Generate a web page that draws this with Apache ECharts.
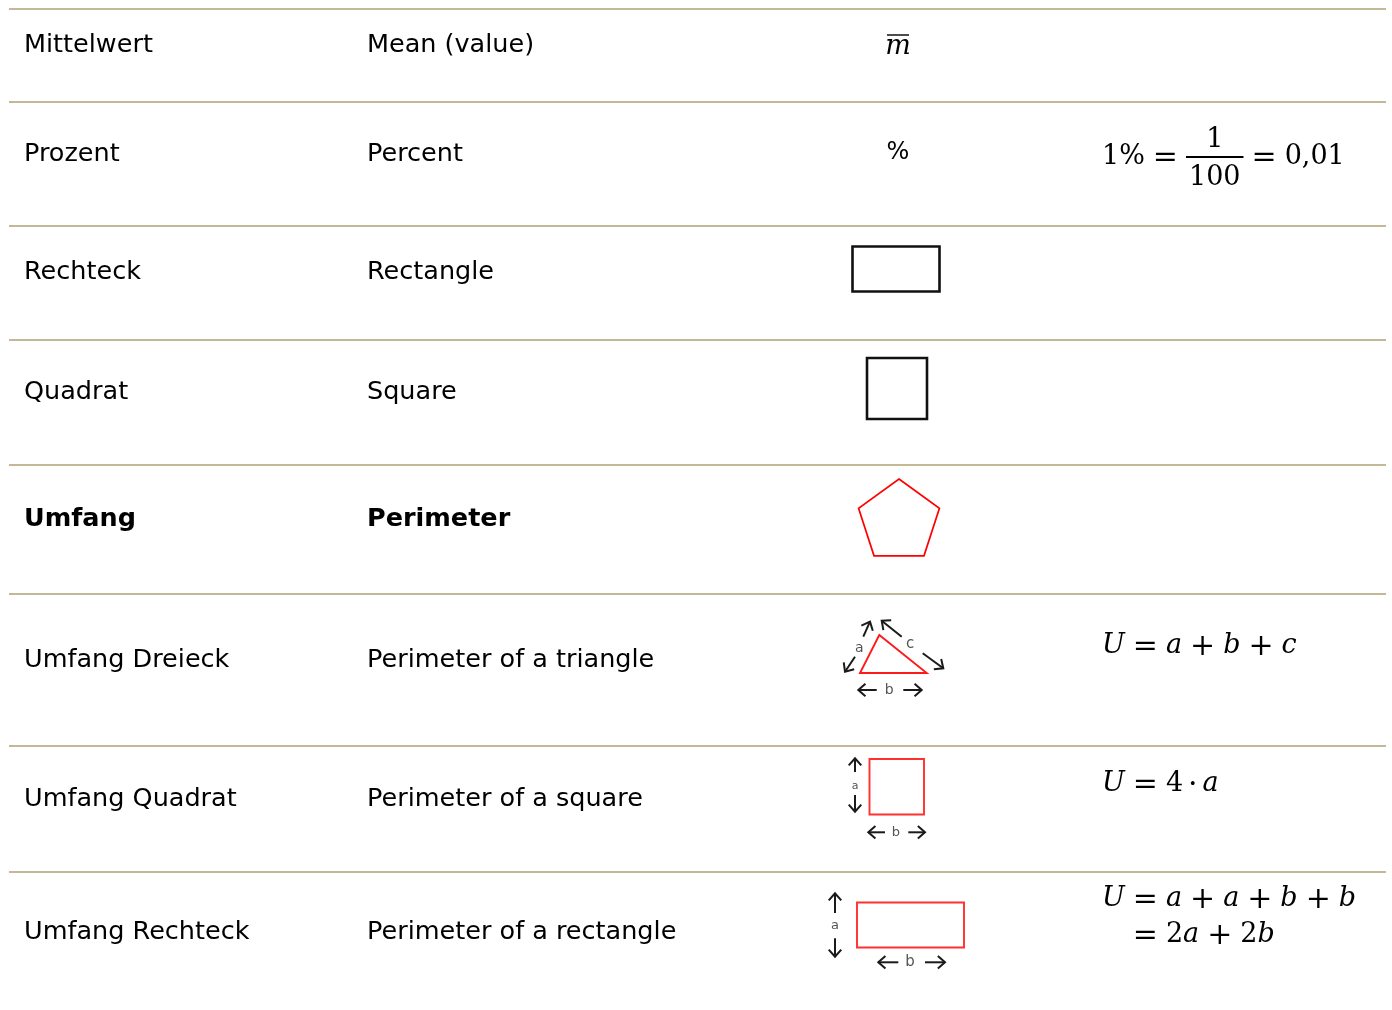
<!DOCTYPE html>
<html>
<head>
<meta charset="utf-8">
<script src="https://cdn.jsdelivr.net/npm/echarts@6/dist/echarts.min.js"></script>
<style>
  html, body { margin: 0; padding: 0; background: #fff; }
  #main { width: 1392px; height: 1010px; }
</style>
</head>
<body>
<div id="main"></div>
<script>
// table content
const germanTerms = ['Mittelwert', 'Prozent', 'Rechteck', 'Quadrat', 'Umfang', 'Umfang Dreieck', 'Umfang Quadrat', 'Umfang Rechteck'];
const englishTerms = ['Mean (value)', 'Percent', 'Rectangle', 'Square', 'Perimeter', 'Perimeter of a triangle', 'Perimeter of a square', 'Perimeter of a rectangle'];
const symbolKinds = ['mean', 'percent', 'rect', 'square', 'pentagon', 'triangle', 'squarePerimeter', 'rectPerimeter'];
const formulas = [[], ['1% = 1/100 = 0,01'], [], [], [], ['U = a + b + c'], ['U = 4 · a'], ['U = a + a + b + b', '= 2a + 2b']];
const boldRows = [4];

// layout
const ruleY = [9, 102, 226, 340, 465, 594, 746, 872];
const textY = [45, 154, 272, 392, 519, 660, 799, 932];
const formulaY = [[], [157], [], [], [], [646], [784], [899, 935]];
const colX = [24, 367];
const symbolX = 898;
const formulaX = 1102;

const ruleColor = '#c3ba95';
const sansFont = '"DejaVu Sans", Verdana, sans-serif';
const mathFamily = '"DejaVu Serif", "Liberation Serif", serif';
const mathSize = 27;

const ctx = document.createElement('canvas').getContext('2d');
function measure(txt, font) {
  ctx.font = font;
  return ctx.measureText(txt).width;
}

function text(x, y, str, font, opts) {
  opts = opts || {};
  return {
    type: 'text',
    x: x,
    y: y,
    silent: true,
    style: {
      text: str,
      font: font,
      fill: opts.fill || '#000',
      textAlign: opts.align || 'left',
      textVerticalAlign: 'middle'
    }
  };
}

function line(x1, y1, x2, y2, color, width) {
  return {
    type: 'line',
    silent: true,
    shape: { x1: x1, y1: y1, x2: x2, y2: y2 },
    style: { stroke: color, lineWidth: width }
  };
}

function arrow(x1, y1, x2, y2) {
  const ang = Math.atan2(y2 - y1, x2 - x1);
  const L = 9.5, A = 0.72;
  return [
    line(x1, y1, x2, y2, '#1a1a1a', 2),
    {
      type: 'polyline',
      silent: true,
      shape: {
        points: [
          [x2 - L * Math.cos(ang - A), y2 - L * Math.sin(ang - A)],
          [x2, y2],
          [x2 - L * Math.cos(ang + A), y2 - L * Math.sin(ang + A)]
        ]
      },
      style: { stroke: '#1a1a1a', lineWidth: 2, fill: null }
    }
  ];
}

function smallLabel(x, y, s, size) {
  return text(x, y, s, size + 'px ' + sansFont, { fill: '#555', align: 'center' });
}

function drawSymbol(kind, ry) {
  const cx = symbolX;
  const els = [];
  if (kind === 'mean') {
    els.push(text(cx, ry + 38, 'm', 'italic 27px ' + mathFamily, { align: 'center' }));
    els.push(line(cx - 11, ry + 26, cx + 11, ry + 26, '#000', 1.4));
  } else if (kind === 'percent') {
    els.push(text(cx, ry + 51, '%', '24px ' + sansFont, { align: 'center' }));
  } else if (kind === 'rect') {
    els.push({ type: 'rect', silent: true, shape: { x: 852.5, y: ry + 20.5, width: 87, height: 45 },
      style: { stroke: '#111', lineWidth: 2.6, fill: null } });
  } else if (kind === 'square') {
    els.push({ type: 'rect', silent: true, shape: { x: 867, y: ry + 18, width: 60, height: 61 },
      style: { stroke: '#111', lineWidth: 2.6, fill: null } });
  } else if (kind === 'pentagon') {
    const pts = [];
    for (let k = 0; k < 5; k++) {
      const a = -Math.PI / 2 + k * 2 * Math.PI / 5;
      pts.push([cx + 1 + 42.5 * Math.cos(a), ry + 56.5 + 42.5 * Math.sin(a)]);
    }
    els.push({ type: 'polygon', silent: true, shape: { points: pts },
      style: { stroke: '#ff0000', lineWidth: 1.7, fill: null } });
  } else if (kind === 'triangle') {
    els.push({ type: 'polygon', silent: true,
      shape: { points: [[879.3, ry + 41], [860, ry + 79], [926.7, ry + 79]] },
      style: { stroke: '#ff1a1a', lineWidth: 1.9, fill: null } });
    els.push(...arrow(863.3, ry + 42.7, 870, ry + 27.7));
    els.push(...arrow(855, ry + 62.7, 845, ry + 77.7));
    els.push(smallLabel(859.3, ry + 54.3, 'a', 14));
    els.push(...arrow(901.7, ry + 42.7, 881.7, ry + 26.7));
    els.push(...arrow(922.7, ry + 59.3, 943.3, ry + 74.3));
    els.push(smallLabel(910, ry + 50, 'c', 15));
    els.push(...arrow(876.7, ry + 96, 858.3, ry + 96));
    els.push(smallLabel(889.3, ry + 96, 'b', 14));
    els.push(...arrow(903.3, ry + 96, 921.7, ry + 96));
  } else if (kind === 'squarePerimeter') {
    els.push({ type: 'rect', silent: true, shape: { x: 869.5, y: ry + 13, width: 54.5, height: 55.5 },
      style: { stroke: '#ff3030', lineWidth: 1.9, fill: null } });
    els.push(...arrow(855, ry + 26, 855, ry + 12.3));
    els.push(...arrow(855, ry + 49, 855, ry + 65.7));
    els.push(smallLabel(855, ry + 39.7, 'a', 11));
    els.push(...arrow(885, ry + 86.3, 868.3, ry + 86.3));
    els.push(smallLabel(896, ry + 86.3, 'b', 13));
    els.push(...arrow(908.3, ry + 86.3, 925, ry + 86.3));
  } else if (kind === 'rectPerimeter') {
    els.push({ type: 'rect', silent: true, shape: { x: 857, y: ry + 30.5, width: 107, height: 45 },
      style: { stroke: '#ff3030', lineWidth: 1.9, fill: null } });
    els.push(...arrow(835, ry + 41, 835, ry + 21.3));
    els.push(...arrow(835, ry + 66.3, 835, ry + 84.7));
    els.push(smallLabel(835, ry + 53.7, 'a', 13));
    els.push(...arrow(898.3, ry + 90.3, 878.3, ry + 90.3));
    els.push(smallLabel(910, ry + 90.3, 'b', 15));
    els.push(...arrow(925, ry + 90.3, 945, ry + 90.3));
  }
  return els;
}

// split a formula string into variables, numbers, operators and fractions
function tokenize(str) {
  const out = [];
  str.split(' ').forEach(part => {
    if (!part) return;
    if (part.indexOf('/') > 0) {
      const p = part.split('/');
      out.push({ kind: 'frac', num: p[0], den: p[1] });
      return;
    }
    let buf = '';
    for (const ch of part) {
      if (/[=+·]/.test(ch)) {
        if (buf) { out.push({ kind: 'num', t: buf }); buf = ''; }
        out.push({ kind: 'op', t: ch });
      } else if (/[A-Za-z]/.test(ch)) {
        if (buf) { out.push({ kind: 'num', t: buf }); buf = ''; }
        out.push({ kind: 'var', t: ch });
      } else {
        buf += ch;
      }
    }
    if (buf) out.push({ kind: 'num', t: buf });
  });
  return out;
}

const upFont = mathSize + 'px ' + mathFamily;
const itFont = 'italic ' + mathSize + 'px ' + mathFamily;
const opFont = '30px ' + mathFamily;

function layoutFormula(str, x0, y, els) {
  const toks = tokenize(str);
  let x = x0;
  let firstOpX = null;
  toks.forEach(tk => {
    if (tk.kind === 'op') {
      const gap = tk.t === '·' ? 5 : 8;
      x += gap;
      const w = measure(tk.t, opFont);
      if (firstOpX === null) firstOpX = x;
      els.push(text(x, y + 1, tk.t, opFont));
      x += w + gap;
    } else if (tk.kind === 'frac') {
      const w = Math.max(measure(tk.num, upFont), measure(tk.den, upFont)) + 6;
      const mid = x + w / 2;
      els.push(line(x, y, x + w, y, '#000', 2));
      els.push(text(mid, y - 17, tk.num, upFont, { align: 'center' }));
      els.push(text(mid, y + 21, tk.den, upFont, { align: 'center' }));
      x += w;
    } else {
      const f = tk.kind === 'var' ? itFont : upFont;
      els.push(text(x, y, tk.t, f));
      x += measure(tk.t, f);
    }
  });
  return firstOpX;
}

const elements = [];

ruleY.forEach(y => elements.push(line(9, y, 1386, y, ruleColor, 2)));

germanTerms.forEach((term, i) => {
  const weight = boldRows.indexOf(i) >= 0 ? 'bold ' : '';
  const font = weight + '25.5px ' + sansFont;
  elements.push(text(colX[0], textY[i], term, font));
  elements.push(text(colX[1], textY[i], englishTerms[i], font));
  elements.push(...drawSymbol(symbolKinds[i], ruleY[i]));

  let opX = null;
  formulas[i].forEach((f, j) => {
    let x0 = formulaX;
    if (j > 0 && f.charAt(0) === '=' && opX !== null) x0 = opX - 8;
    const o = layoutFormula(f, x0, formulaY[i][j], elements);
    if (j === 0) opX = o;
  });
});

const chart = echarts.init(document.getElementById('main'), null, { renderer: 'canvas' });
chart.setOption({
  backgroundColor: '#ffffff',
  animation: false,
  graphic: { elements: elements }
});
</script>
</body>
</html>
